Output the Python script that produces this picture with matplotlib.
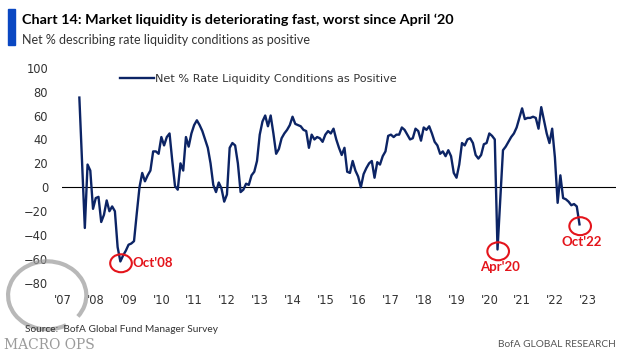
import numpy as np
import matplotlib
matplotlib.use("Agg")
import matplotlib.pyplot as plt
from matplotlib.patches import Ellipse, Rectangle, Arc

# survey months and net % values
months = ['2007-07', '2007-09', '2007-10', '2007-11', '2007-12',
          '2008-01', '2008-02', '2008-03', '2008-04', '2008-05', '2008-06',
          '2008-07', '2008-08', '2008-09', '2008-10', '2008-11', '2008-12',
          '2009-01', '2009-02', '2009-03', '2009-04', '2009-05', '2009-06',
          '2009-07', '2009-08', '2009-09', '2009-10', '2009-11', '2009-12',
          '2010-01', '2010-02', '2010-03', '2010-04', '2010-05', '2010-06',
          '2010-07', '2010-08', '2010-09', '2010-10', '2010-11', '2010-12',
          '2011-01', '2011-02', '2011-03', '2011-04', '2011-05', '2011-06',
          '2011-07', '2011-08', '2011-09', '2011-10', '2011-11', '2011-12',
          '2012-01', '2012-02', '2012-03', '2012-04', '2012-05', '2012-06',
          '2012-07', '2012-08', '2012-09', '2012-10', '2012-11', '2012-12',
          '2013-01', '2013-02', '2013-03', '2013-04', '2013-05', '2013-06',
          '2013-07', '2013-08', '2013-09', '2013-10', '2013-11', '2013-12',
          '2014-01', '2014-02', '2014-03', '2014-04', '2014-05', '2014-06',
          '2014-07', '2014-08', '2014-09', '2014-10', '2014-11', '2014-12',
          '2015-01', '2015-02', '2015-03', '2015-04', '2015-05', '2015-06',
          '2015-07', '2015-08', '2015-09', '2015-10', '2015-11', '2015-12',
          '2016-01', '2016-02', '2016-03', '2016-04', '2016-05', '2016-06',
          '2016-07', '2016-08', '2016-09', '2016-10', '2016-11', '2016-12',
          '2017-01', '2017-02', '2017-03', '2017-04', '2017-05', '2017-06',
          '2017-07', '2017-08', '2017-09', '2017-10', '2017-11', '2017-12',
          '2018-01', '2018-02', '2018-03', '2018-04', '2018-05', '2018-06',
          '2018-07', '2018-08', '2018-09', '2018-10', '2018-11', '2018-12',
          '2019-01', '2019-02', '2019-03', '2019-04', '2019-05', '2019-06',
          '2019-07', '2019-08', '2019-09', '2019-10', '2019-11', '2019-12',
          '2020-01', '2020-02', '2020-03', '2020-04', '2020-06',
          '2020-07', '2020-08', '2020-09', '2020-10', '2020-11', '2020-12',
          '2021-01', '2021-02', '2021-03', '2021-04', '2021-05', '2021-06',
          '2021-07', '2021-08', '2021-09', '2021-10', '2021-11', '2021-12',
          '2022-01', '2022-02', '2022-03', '2022-04', '2022-05', '2022-06',
          '2022-07', '2022-08', '2022-09', '2022-10']
net_pct = [75, -34, 19, 14, -18,
           -9, -8, -29, -23, -11, -20,
           -16, -20, -50, -62, -57, -53,
           -48, -47, -45, -22, 0, 12,
           5, 10, 14, 30, 30, 28,
           42, 35, 42, 45, 22, 1,
           -2, 20, 14, 42, 34, 45,
           52, 56, 52, 47, 40, 33,
           20, 2, -4, 4, -1, -12,
           -6, 33, 37, 35, 20, -4,
           -2, 3, 2, 10, 13, 22,
           44, 55, 60, 51, 60, 45,
           28, 32, 41, 45, 48, 52,
           59, 53, 52, 51, 48, 47,
           33, 44, 40, 42, 41, 38,
           44, 47, 45, 49, 40, 33,
           27, 33, 13, 12, 22, 14,
           9, 0, 11, 16, 20, 22,
           8, 21, 19, 26, 30, 43,
           44, 42, 44, 44, 50, 48,
           44, 40, 41, 49, 47, 39,
           50, 48, 51, 45, 38, 35,
           28, 30, 26, 31, 26, 12,
           8, 19, 37, 35, 40, 41,
           37, 27, 24, 27, 36, 37,
           45, 43, 40, -52, 31,
           34, 38, 42, 45, 50, 58,
           66, 57, 58, 58, 59, 58,
           49, 67, 56, 45, 37, 49,
           25, -13, 10, -9, -10, -12,
           -15, -14, -16, -31]

years = list(range(2007, 2024))
year_labels = ["'%02d" % (y % 100) for y in years]

lows = ['2008-10', '2020-04', '2022-10']
low_labels = ["Oct'08", "Apr'20", "Oct'22"]

navy = '#0c2465'
red = '#e4141b'
font = 'Lato'


def to_year(m):
    y, mo = m.split('-')
    return int(y) + (int(mo) - 1) / 12


x = np.array([to_year(m) for m in months])
y = np.array(net_pct)

fig = plt.figure(figsize=(6.21, 3.58), dpi=100)
ax = fig.add_axes([0.0998, 0.2095, 0.892, 0.6015])

ax.plot(x, y, color=navy, linewidth=1.7, label='Net % Rate Liquidity Conditions as Positive')
ax.axhline(0, color='black', linewidth=0.8, zorder=1)

ax.set_xlim(2006.97, 2023.86)
ax.set_ylim(-80, 100)
ax.set_yticks(range(-80, 101, 20))
ax.set_xticks(years)
ax.set_xticklabels(year_labels)
ax.tick_params(axis='both', length=0, labelsize=8.3, labelcolor='#333333')
ax.tick_params(axis='y', pad=10)
ax.tick_params(axis='x', pad=8)
for s in ax.spines.values():
    s.set_visible(False)

# red circles round the lows
for m, lab in zip(lows, low_labels):
    xm = to_year(m)
    ym = net_pct[months.index(m)]
    ax.add_patch(Ellipse((xm + 0.02, ym - 1.5), 0.66, 15, fill=False,
                         edgecolor=red, linewidth=1.5, zorder=4))
    if lab == "Oct'08":
        ax.text(xm + 0.38, ym - 1.5, lab, color=red, fontsize=9.5, fontweight='bold',
                ha='left', va='center', family=font)
    else:
        ax.text(xm + 0.08, ym - 15, lab, color=red, fontsize=9.5, fontweight='bold',
                ha='center', va='center', family=font)

leg = ax.legend(loc='upper left', bbox_to_anchor=(0.093, 1.0), frameon=False,
                fontsize=8.1, handlelength=3.0, handletextpad=0.1, borderaxespad=0.2)
for t in leg.get_texts():
    t.set_color('#333333')

# header
fig.add_artist(Rectangle((0.013, 0.874), 0.011, 0.1, transform=fig.transFigure,
                         color='#0a47c2'))
fig.text(0.036, 0.944, 'Chart 14: Market liquidity is deteriorating fast, worst since April \u201820',
         fontsize=10.4, fontweight='bold', va='center', family=font)
fig.text(0.036, 0.888, 'Net % describing rate liquidity conditions as positive',
         fontsize=9.0, color='#333333', va='center', family=font)

# footer
fig.text(0.04, 0.081, 'Source:  BofA Global Fund Manager Survey', fontsize=7.3,
         color='#333333', va='center', family=font)
fig.text(0.992, 0.039, 'BofA GLOBAL RESEARCH', fontsize=7.3, color='#555555',
         ha='right', va='center', family=font)

# watermark
fig.add_artist(Arc((0.076, 0.175), 0.126, 0.19, theta1=-50, theta2=290,
                   transform=fig.transFigure, color='#9a9a9a', linewidth=3, alpha=0.7))
fig.text(0.006, 0.035, 'MACRO OPS', fontsize=10, color='#9a9a9a', va='center',
         family='DejaVu Serif')

fig.savefig('out.png', dpi=100)
